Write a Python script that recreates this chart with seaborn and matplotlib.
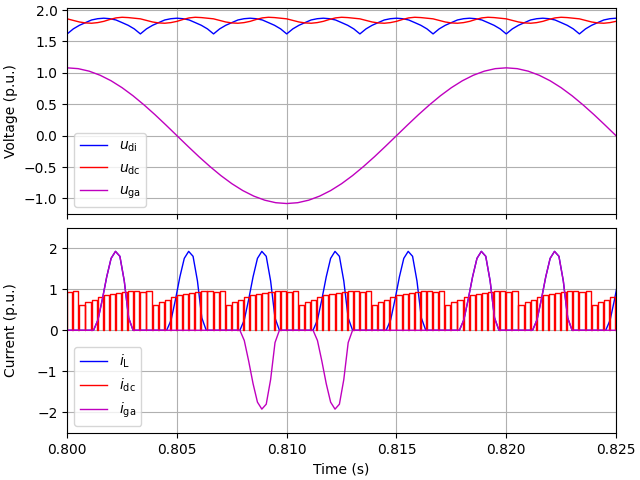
import numpy as np
import pandas as pd
import matplotlib
matplotlib.use("Agg")
import matplotlib.pyplot as plt
import seaborn as sns

T6 = 0.02 / 6           # one 6-pulse interval
t_start, t_end = 0.800, 0.825

# u_ga: one grid-cycle samples (every 0.5 ms), starting at peak
u_ga_cycle = [1.08, 1.067, 1.027, 0.962, 0.874, 0.764, 0.635, 0.49, 0.334, 0.169,
              0.0, -0.169, -0.334, -0.49, -0.635, -0.764, -0.874, -0.962, -1.027, -1.067,
              -1.08, -1.067, -1.027, -0.962, -0.874, -0.764, -0.635, -0.49, -0.334, -0.169,
              0.0, 0.169, 0.334, 0.49, 0.635, 0.764, 0.874, 0.962, 1.027, 1.067]
# u_di within one 6-pulse interval (cusp to cusp)
u_di_seg = [1.62, 1.70, 1.757, 1.80, 1.842, 1.862, 1.87, 1.862, 1.842, 1.80, 1.757, 1.70]
# u_dc within one 6-pulse interval
u_dc_seg = [1.86, 1.835, 1.81, 1.795, 1.79, 1.80, 1.82, 1.85, 1.875, 1.885, 1.88, 1.87]
# i_L pulse shape (0.2 ms spacing, starting 1.2 ms after each cusp)
i_pulse = [0.0, 0.25, 0.75, 1.3, 1.75, 1.92, 1.8, 1.2, 0.3, 0.0]
# sign of i_ga for consecutive pulses (pulse peaks at 0.8022, 0.8056, ...)
ga_sign = [1, 0, -1, -1, 0, 1, 1, 0]
# i_dc switching pulse heights within one 6-pulse interval
i_dc_heights = [0.93, 0.95, 0.62, 0.68, 0.74, 0.8, 0.85, 0.88, 0.91, 0.93, 0.95, 0.96]

# ---------- build series ----------
t_ga = t_start + np.arange(len(u_ga_cycle) * 2) * 0.0005
u_ga = np.tile(u_ga_cycle, 2)

n_seg = 8
t_di = np.concatenate([t_start + k * T6 + np.arange(len(u_di_seg)) * T6 / len(u_di_seg) for k in range(n_seg)])
u_di = np.tile(u_di_seg, n_seg)
u_dc = np.tile(u_dc_seg, n_seg)

tL, iL, iga = [t_start], [0.0], [0.0]
for k, s in enumerate(ga_sign):
    base = t_start + k * T6
    for j, v in enumerate(i_pulse):
        tt = base + 0.0012 + j * 0.0002
        tL.append(tt); iL.append(v); iga.append(v * s)
tL, iL, iga = np.array(tL), np.array(iL), np.array(iga)
order = np.argsort(tL)
tL, iL, iga = tL[order], iL[order], iga[order]

sw = T6 / len(i_dc_heights)
td, idc = [], []
for k in range(n_seg):
    for j, h in enumerate(i_dc_heights):
        t0 = t_start + k * T6 + j * sw
        td += [t0, t0, t0 + 0.85 * sw, t0 + 0.85 * sw]
        idc += [0.0, h, h, 0.0]
td, idc = np.array(td), np.array(idc)

# ---------- plot ----------
fig, (ax1, ax2) = plt.subplots(2, 1, sharex=True, figsize=(6.4, 4.8), dpi=100)
kw = dict(estimator=None, sort=False, linewidth=1)
sns.lineplot(x=t_di, y=u_di, ax=ax1, color="blue", label=r"$u_\mathrm{di}$", **kw)
sns.lineplot(x=t_di, y=u_dc, ax=ax1, color="red", label=r"$u_\mathrm{dc}$", **kw)
sns.lineplot(x=t_ga, y=u_ga, ax=ax1, color="m", label=r"$u_\mathrm{ga}$", **kw)
ax1.set_ylabel("Voltage (p.u.)")
ax1.grid(True)
ax1.legend(loc="lower left")
ax1.set_ylim(-1.24, 2.03)
ax1.set_yticks([-1.0, -0.5, 0.0, 0.5, 1.0, 1.5, 2.0])

sns.lineplot(x=tL, y=iL, ax=ax2, color="blue", label=r"$i_\mathrm{L}$", **kw)
sns.lineplot(x=td, y=idc, ax=ax2, color="red", label=r"$i_\mathrm{dc}$", **kw)
sns.lineplot(x=tL, y=iga, ax=ax2, color="m", label=r"$i_\mathrm{ga}$", **kw)
ax2.set_ylabel("Current (p.u.)")
ax2.set_xlabel("Time (s)")
ax2.grid(True)
ax2.legend(loc="lower left")
ax2.set_xlim(t_start, t_end)
ax2.set_ylim(-2.5, 2.5)
ax2.set_yticks([-2, -1, 0, 1, 2])
ax2.set_xticks([0.800, 0.805, 0.810, 0.815, 0.820, 0.825])
ax2.set_xticklabels(["0.800", "0.805", "0.810", "0.815", "0.820", "0.825"])
fig.subplots_adjust(left=0.105, right=0.9625, top=0.983, bottom=0.098, hspace=0.068)
fig.align_ylabels([ax1, ax2])
fig.savefig("out.png")
